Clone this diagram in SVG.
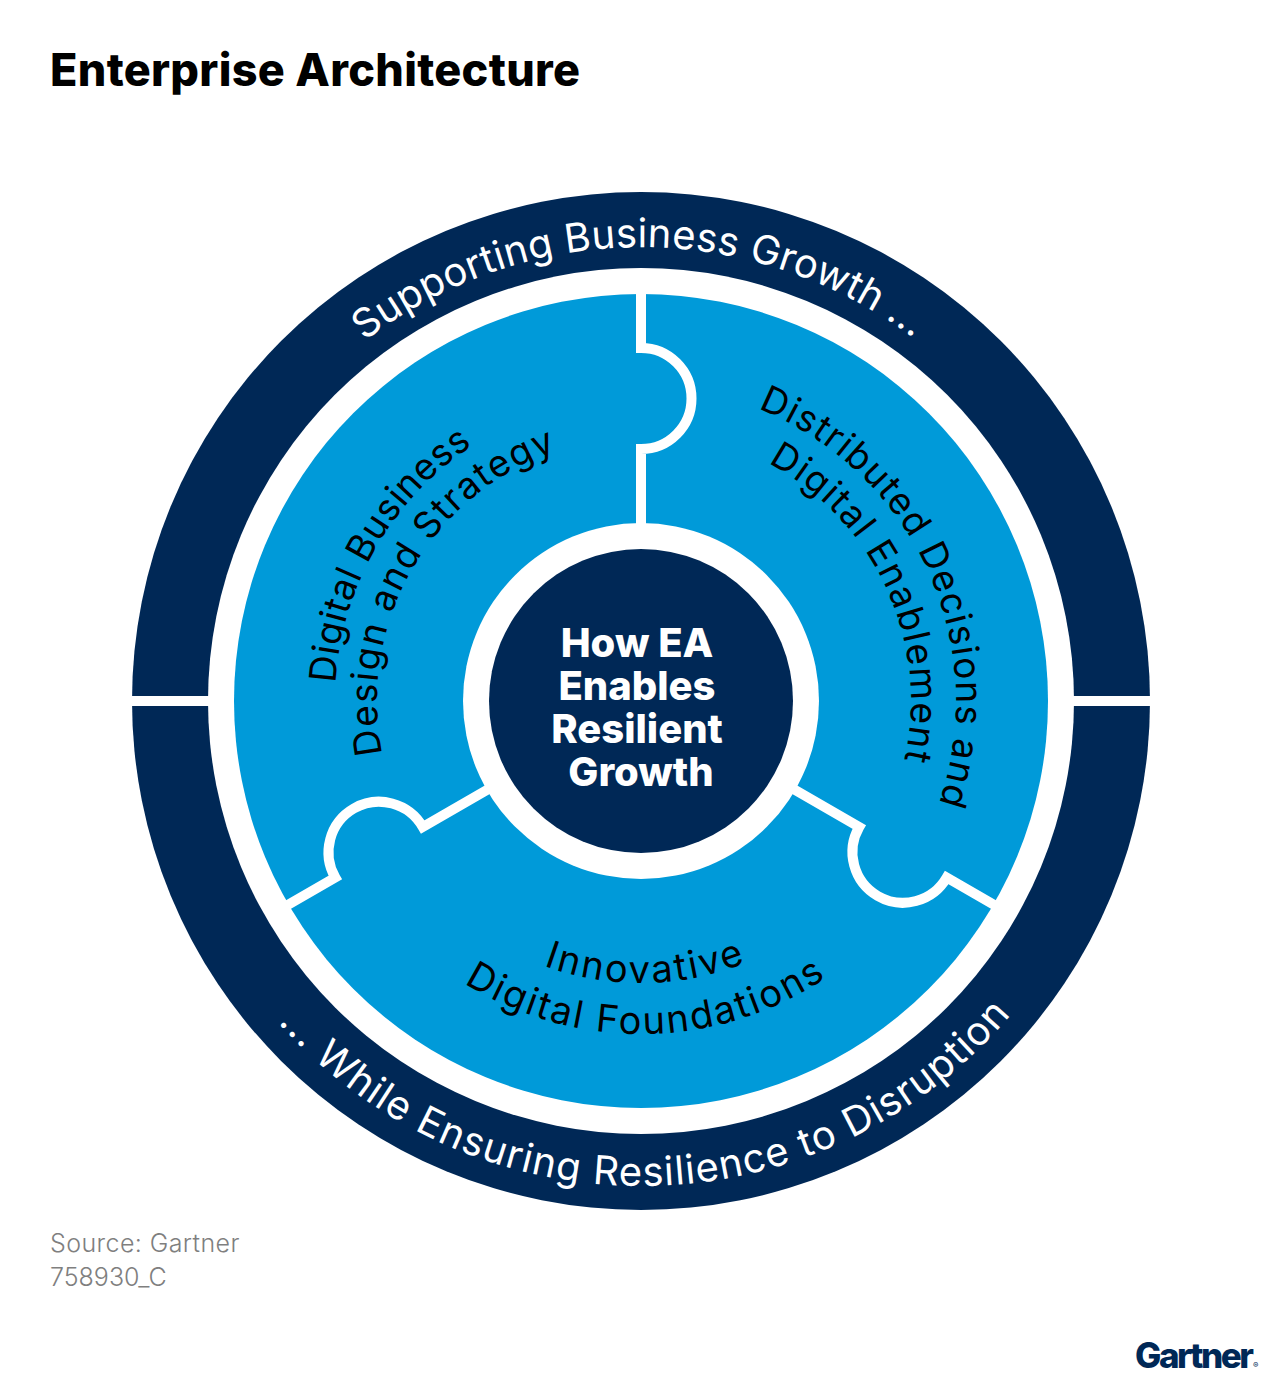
<svg xmlns="http://www.w3.org/2000/svg" width="1282" height="1382" viewBox="0 0 1282 1382">
<style>
text{font-family:"Inter","Liberation Sans",sans-serif}
.title{font-size:45px;font-weight:800;fill:#000}
.ring{font-size:40px;font-weight:400;fill:#fff;text-anchor:middle}
.seg{font-size:37px;font-weight:400;fill:#000;text-anchor:middle}
.seg.low{font-size:38px}
.hub{font-size:40px;font-weight:800;fill:#fff;text-anchor:middle}
.src{font-size:25px;font-weight:300;fill:#7f7f7f}
.cut{fill:none;stroke:#fff;stroke-width:10;stroke-miterlimit:10}
</style>
<defs>
<path id="cw454" d="M187 701A454 454 0 0 1 1095 701"/>
<path id="ccw485" d="M156 701A485 485 0 0 0 1126 701"/>
<path id="cw306" d="M335 701A306 306 0 0 1 947 701"/>
<path id="cw264" d="M377 701A264 264 0 0 1 905 701"/>
<path id="cw315" d="M326 701A315 315 0 0 1 956 701"/>
<path id="cw270" d="M371 701A270 270 0 0 1 911 701"/>
<path id="ccw282" d="M359 701A282 282 0 0 0 923 701"/>
<path id="ccw333" d="M308 701A333 333 0 0 0 974 701"/>
<path id="cut" d="M641 293V348A50.500 50.500 0 0 1 641 449V530"/>
</defs>
<rect width="1282" height="1382" fill="#fff"/>
<text class="title" x="50" y="86" textLength="530">Enterprise Architecture</text>
<g id="outer-ring">
<circle cx="641" cy="701" r="509" fill="#002856"/>
<circle cx="641" cy="701" r="433" fill="#fff"/>
<rect x="130" y="696" width="80" height="10" fill="#fff"/>
<rect x="1072" y="696" width="80" height="10" fill="#fff"/>
<text class="ring" letter-spacing="0.2" transform="rotate(-0.3 641 701)"><textPath href="#cw454" startOffset="50%">Supporting Business Growth ...</textPath></text>
<text class="ring" letter-spacing="1.1" transform="rotate(-0.7 641 701)"><textPath href="#ccw485" startOffset="50%">... While Ensuring Resilience to Disruption</textPath></text>
</g>
<g id="segments">
<circle cx="641" cy="701" r="407" fill="#009ad9"/>
<use href="#cut" class="cut"/>
<use href="#cut" class="cut" transform="rotate(120 641 701)"/>
<use href="#cut" class="cut" transform="rotate(-120 641 701)"/>
</g>
<g id="segment-strategy">
<text class="seg" letter-spacing="0.5" transform="rotate(-60 641 701)"><textPath href="#cw306" startOffset="50%">Digital Business</textPath></text>
<text class="seg" letter-spacing="1.5" transform="rotate(-60 641 701)"><textPath href="#cw264" startOffset="50%">Design and Strategy</textPath></text>
</g>
<g id="segment-decisions">
<text class="seg" letter-spacing="1.3" transform="rotate(65.500 641 701)"><textPath href="#cw315" startOffset="50%">Distributed Decisions and</textPath></text>
<text class="seg" letter-spacing="1.5" transform="rotate(65.500 641 701)"><textPath href="#cw270" startOffset="50%">Digital Enablement</textPath></text>
</g>
<g id="segment-foundations">
<text class="seg low" letter-spacing="2.5" transform="rotate(-1 641 701)"><textPath href="#ccw282" startOffset="50%">Innovative</textPath></text>
<text class="seg low" letter-spacing="2.2" transform="rotate(-1 641 701)"><textPath href="#ccw333" startOffset="50%">Digital Foundations</textPath></text>
</g>
<g id="hub">
<circle cx="641" cy="701" r="178" fill="#fff"/>
<circle cx="641" cy="701" r="152" fill="#002856"/>
<text class="hub" x="637" y="657">How EA</text>
<text class="hub" x="637" y="700">Enables</text>
<text class="hub" x="637" y="743">Resilient</text>
<text class="hub" x="641" y="786">Growth</text>
</g>
<text class="src" x="50" y="1252" letter-spacing="0.4">Source: Gartner</text>
<text class="src" x="50" y="1286">758930_C</text>
<text x="1135" y="1368" font-size="35" font-weight="800" fill="#002856" textLength="119">Gartner</text>
<text x="1253" y="1368" font-size="8" font-weight="400" fill="#002856">®</text>
</svg>
